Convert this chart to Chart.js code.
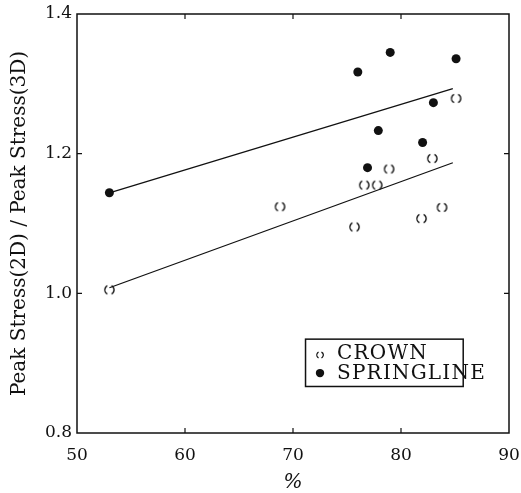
<!DOCTYPE html>
<html>
<head>
<meta charset="utf-8">
<script src="https://cdn.jsdelivr.net/npm/chart.js@4/dist/chart.umd.min.js"></script>
<style>
  html, body { margin: 0; padding: 0; background: #fff; }
  #wrap { width: 521px; height: 493px; }
</style>
</head>
<body>
<div id="wrap"><canvas id="c" width="521" height="493"></canvas></div>
<script>
// Stress ratio (2D / 3D) against percentage, crown and springline locations
const crownX  = [53.0, 68.8, 75.7, 76.6, 77.8, 78.9, 81.9, 82.9, 83.8, 85.1];
const crownY  = [1.005, 1.124, 1.095, 1.155, 1.155, 1.178, 1.107, 1.193, 1.123, 1.279];
const springX = [53.0, 76.0, 76.9, 77.9, 79.0, 82.0, 83.0, 85.1];
const springY = [1.144, 1.317, 1.180, 1.233, 1.345, 1.216, 1.273, 1.336];

// Fitted trend lines (end points)
const crownFitX  = [53.0, 84.8];
const crownFitY  = [1.008, 1.187];
const springFitX = [53.0, 84.8];
const springFitY = [1.144, 1.293];

const xTicks = [50, 60, 70, 80, 90];
const yTicks = [0.8, 1.0, 1.2, 1.4];
const seriesNames = ['CROWN', 'SPRINGLINE'];

const INK = '#111';
const SERIF = '"DejaVu Serif", "Liberation Serif", serif';

const toPts = (xs, ys) => xs.map((x, i) => ({ x, y: ys[i] }));

// open circle drawn as two parenthesis-like arcs
function parenMark(r, lw) {
  const size = Math.ceil(2 * r + lw + 2);
  const cv = document.createElement('canvas');
  cv.width = cv.height = size;
  const g = cv.getContext('2d');
  const c = size / 2;
  g.strokeStyle = INK;
  g.lineWidth = lw;
  g.beginPath(); g.arc(c, c, r, Math.PI * 0.65, Math.PI * 1.35); g.stroke();
  g.beginPath(); g.arc(c, c, r, -Math.PI * 0.35, Math.PI * 0.35); g.stroke();
  return cv;
}
const crownMark = parenMark(4.6, 1.4);
const crownLegendMark = parenMark(3.2, 1.2);

// frame with inward tick marks
const framePlugin = {
  id: 'frame',
  beforeDatasetsDraw(chart) {
    const { ctx, chartArea: a, scales } = chart;
    ctx.save();
    ctx.strokeStyle = INK;
    ctx.lineWidth = 1.5;
    ctx.strokeRect(a.left, a.top, a.right - a.left, a.bottom - a.top);
    ctx.lineWidth = 1.2;
    const len = 5;
    ctx.beginPath();
    xTicks.slice(1, -1).forEach(v => {
      const px = scales.x.getPixelForValue(v);
      ctx.moveTo(px, a.bottom); ctx.lineTo(px, a.bottom - len);
      ctx.moveTo(px, a.top); ctx.lineTo(px, a.top + len);
    });
    yTicks.slice(1, -1).forEach(v => {
      const py = scales.y.getPixelForValue(v);
      ctx.moveTo(a.left, py); ctx.lineTo(a.left + len, py);
      ctx.moveTo(a.right, py); ctx.lineTo(a.right - len, py);
    });
    ctx.stroke();
    ctx.restore();
  }
};

// boxed key inside the plot area
const keyPlugin = {
  id: 'key',
  afterDatasetsDraw(chart) {
    const { ctx, chartArea: a } = chart;
    const W = a.right - a.left, H = a.bottom - a.top;
    const bx0 = a.left + 0.529 * W, bx1 = a.left + 0.894 * W;
    const by0 = a.top + 0.776 * H, by1 = a.top + 0.889 * H;
    ctx.save();
    ctx.fillStyle = '#fff';
    ctx.fillRect(bx0, by0, bx1 - bx0, by1 - by0);
    ctx.strokeStyle = INK;
    ctx.lineWidth = 1.5;
    ctx.strokeRect(bx0, by0, bx1 - bx0, by1 - by0);
    const mx = a.left + 0.5625 * W;
    const tx = a.left + 0.602 * W;
    const rows = [a.top + 0.809 * H, a.top + 0.857 * H];
    ctx.font = '20px ' + SERIF;
    if ('letterSpacing' in ctx) ctx.letterSpacing = '1.2px';
    ctx.textBaseline = 'middle';
    ctx.textAlign = 'left';
    ctx.fillStyle = INK;
    seriesNames.forEach((name, i) => {
      const y = rows[i];
      if (i === 0) {
        ctx.drawImage(crownLegendMark, mx - crownLegendMark.width / 2, y + 2 - crownLegendMark.height / 2);
      } else {
        ctx.beginPath(); ctx.arc(mx, y, 4.2, 0, Math.PI * 2); ctx.fill();
      }
      ctx.fillText(name, tx, y + 1);
    });
    ctx.restore();
  }
};

new Chart(document.getElementById('c'), {
  type: 'scatter',
  data: {
    datasets: [
      { label: seriesNames[0] + ' fit', type: 'line', data: toPts(crownFitX, crownFitY),
        borderColor: INK, borderWidth: 1.3, pointRadius: 0, fill: false, tension: 0 },
      { label: seriesNames[1] + ' fit', type: 'line', data: toPts(springFitX, springFitY),
        borderColor: INK, borderWidth: 1.3, pointRadius: 0, fill: false, tension: 0 },
      { label: seriesNames[0], data: toPts(crownX, crownY),
        pointStyle: crownMark, pointRadius: 5, backgroundColor: INK, borderColor: INK },
      { label: seriesNames[1], data: toPts(springX, springY),
        pointStyle: 'circle', pointRadius: 4.5, backgroundColor: INK, borderColor: INK, borderWidth: 0 }
    ]
  },
  options: {
    responsive: false,
    devicePixelRatio: 1,
    animation: false,
    layout: { padding: { top: 14, right: 12, left: 0, bottom: 0 } },
    plugins: { legend: { display: false }, tooltip: { enabled: false } },
    scales: {
      x: {
        type: 'linear', min: 50, max: 90,
        afterBuildTicks: s => { s.ticks = xTicks.map(v => ({ value: v })); },
        afterFit: s => { s.height = 60; s.paddingLeft = 0; s.paddingRight = 0; },
        grid: { display: false, drawTicks: false },
        border: { display: false },
        ticks: { color: INK, padding: 12, font: { family: SERIF, size: 17 }, callback: v => String(v) },
        title: { display: true, text: '%', color: INK, padding: { top: 0, bottom: 0 },
                 font: { family: SERIF, size: 20, style: 'italic', lineHeight: 1 } }
      },
      y: {
        type: 'linear', min: 0.8, max: 1.4,
        afterBuildTicks: s => { s.ticks = yTicks.map(v => ({ value: v })); },
        afterFit: s => { s.width = 77; s.paddingTop = 0; s.paddingBottom = 0; },
        grid: { display: false, drawTicks: false },
        border: { display: false },
        ticks: { color: INK, padding: 5, font: { family: SERIF, size: 17 }, callback: v => v.toFixed(1) },
        title: { display: true, text: 'Peak Stress(2D) / Peak Stress(3D)', color: INK,
                 padding: { top: 10, bottom: 0 },
                 font: { family: SERIF, size: 20, lineHeight: 1 } }
      }
    }
  },
  plugins: [framePlugin, keyPlugin]
});
</script>
</body>
</html>
